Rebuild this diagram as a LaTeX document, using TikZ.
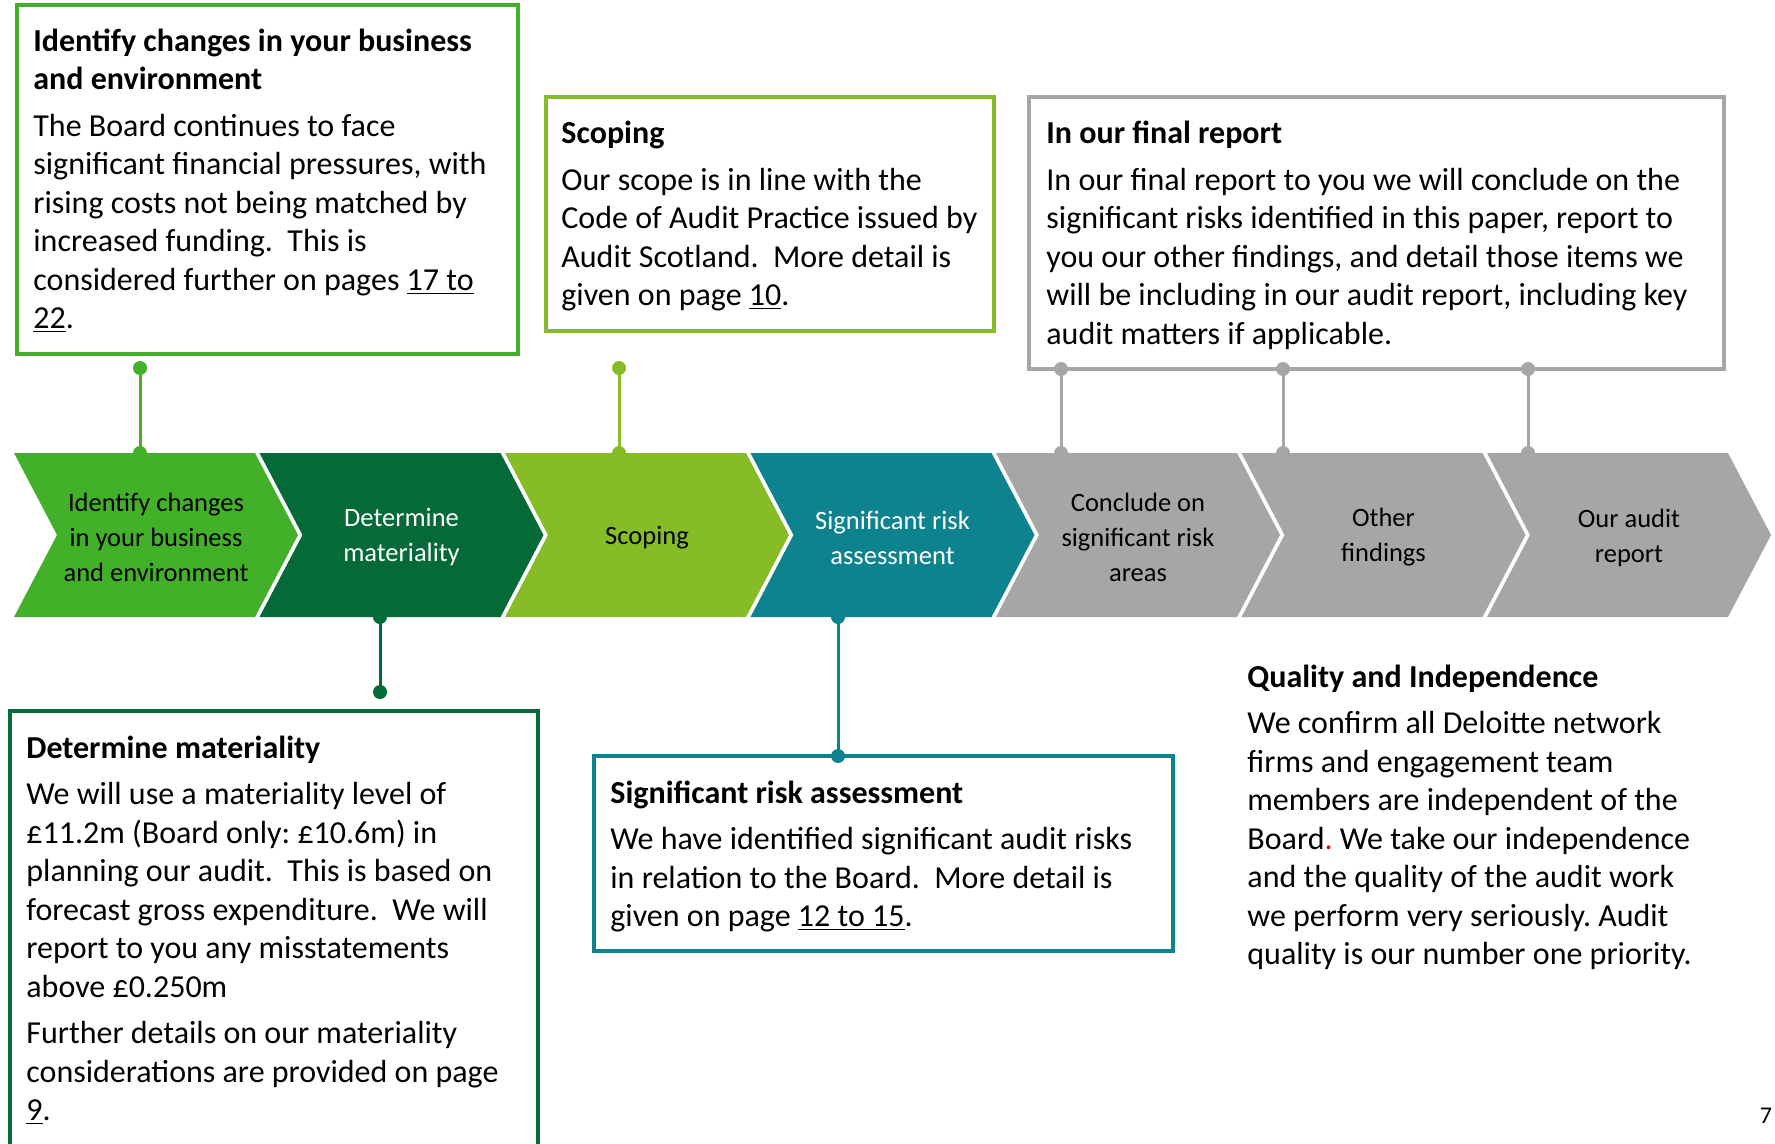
\documentclass[tikz,border=0pt]{standalone}
\usepackage{fontspec}
\setmainfont{Carlito}
\frenchspacing

\definecolor{chgGreen}{RGB}{67,176,42}
\definecolor{matGreen}{RGB}{4,106,56}
\definecolor{scpGreen}{RGB}{134,188,37}
\definecolor{riskTeal}{RGB}{13,131,144}
\definecolor{finGray}{RGB}{166,166,166}

\newcommand{\auditChev}[5]{
\begin{scope}[shift={(#1,0)}]
\fill [#2] (0,453) -- (241,453) -- (284,535) -- (241,617) -- (0,617) -- (43,535) -- cycle;
\coordinate (#4-top) at (0,453);
\coordinate (#4-bot) at (0,617);
\node [chevtext,text=#3] (#4) at (142,537.5) {#5};
\end{scope}
}

\newcommand{\linkDots}[3]{
\draw [link,#1] (#2) -- (#3);
\fill [#1] (#2) circle (3.5pt) (#3) circle (3.5pt);
}

\tikzset{
chevtext/.style={align=center,inner sep=0pt,font=\fontsize{13.25}{17.5}\selectfont},
infobox/.style={draw=#1,line width=1.75pt},
link/.style={line width=1.5pt},
boxtext/.style={anchor=base west,inner sep=0pt,text width=340pt,align=left,
  font=\fontsize{16}{19.25}\selectfont,
  execute at begin node={\spaceskip=0pt\xspaceskip=0pt\relax}}
}

\begin{document}
\begin{tikzpicture}[x=0.5pt,y=-0.5pt]
\useasboundingbox (0,0) rectangle (1775,1144);
\clip (0,0) rectangle (1775,1144);

% process chevrons
\auditChev{14}{chgGreen}{black}{chev1}{Identify changes\\in your business\\and environment}
\auditChev{259.5}{matGreen}{white}{chev2}{Determine\\materiality}
\auditChev{505}{scpGreen}{black}{chev3}{Scoping}
\auditChev{750.5}{riskTeal}{white}{chev4}{Significant risk\\assessment}
\auditChev{996}{finGray}{black}{chev5}{Conclude on\\significant risk\\areas}
\auditChev{1241.5}{finGray}{black}{chev6}{Other\\findings}
\auditChev{1487}{finGray}{black}{chev7}{Our audit\\report}

% boxes
\draw [infobox=chgGreen] (17,5) rectangle (518,354);
\node [boxtext] (chgtxt) at (33,51.3) {\textbf{Identify changes in your business}\\
\textbf{and environment}\\[4pt]
The Board continues to face\\
significant financial pressures, with\\
rising costs not being matched by\\
increased funding.\ \ This is\\
considered further on pages \underline{17 to}\\
\underline{22}.};

\draw [infobox=scpGreen] (546,97) rectangle (994,331);
\node [boxtext] (scptxt) at (561,143.8) {\textbf{Scoping}\\[4pt]
Our scope is in line with the\\
Code of Audit Practice issued by\\
Audit Scotland.\ \ More detail is\\
given on page \underline{10}.};

\draw [infobox=finGray] (1029,97) rectangle (1724,369);
\node [boxtext] (fintxt) at (1046,143.8) {\textbf{In our final report}\\[4pt]
In our final report to you we will conclude on the\\
significant risks identified in this paper, report to\\
you our other findings, and detail those items we\\
will be including in our audit report, including key\\
audit matters if applicable.};

\draw [infobox=matGreen] (10,711) rectangle (538,1160);
\node [boxtext] (mattxt) at (26,758.3) {\textbf{Determine materiality}\\[4pt]
We will use a materiality level of\\
£11.2m (Board only: £10.6m) in\\
planning our audit.\ \ This is based on\\
forecast gross expenditure.\ \ We will\\
report to you any misstatements\\
above £0.250m\\[4pt]
Further details on our materiality\\
considerations are provided on page\\
\underline{9}.};

\draw [infobox=riskTeal] (594,756) rectangle (1173,951);
\node [boxtext] (risktxt) at (610,803.3) {\textbf{Significant risk assessment}\\[4pt]
We have identified significant audit risks\\
in relation to the Board.\ \ More detail is\\
given on page \underline{12 to 15}.};

\node [boxtext] (qualtxt) at (1247,687.3) {\textbf{Quality and Independence}\\[4pt]
We confirm all Deloitte network\\
firms and engagement team\\
members are independent of the\\
Board{\color{red}.} We take our independence\\
and the quality of the audit work\\
we perform very seriously. Audit\\
quality is our number one priority.};

\node [font=\fontsize{12}{14}\selectfont,inner sep=0pt] (pagenum) at (1766,1116) {7};

% connectors
\coordinate (chgdot) at (140,368);
\coordinate (scpdot) at (619,368);
\coordinate (matdot) at (380,692);
\coordinate (riskdot) at (838,756);
\linkDots{chgGreen}{chgdot}{chgdot |- chev1-top}
\linkDots{scpGreen}{scpdot}{scpdot |- chev3-top}
\linkDots{matGreen}{matdot |- chev2-bot}{matdot}
\linkDots{riskTeal}{riskdot |- chev4-bot}{riskdot}
\foreach \x/\k in {1061/5,1283/6,1528/7}{
\coordinate (fin\k) at (\x,369);
\linkDots{finGray}{fin\k}{fin\k |- chev\k-top}
}

\end{tikzpicture}
\end{document}
